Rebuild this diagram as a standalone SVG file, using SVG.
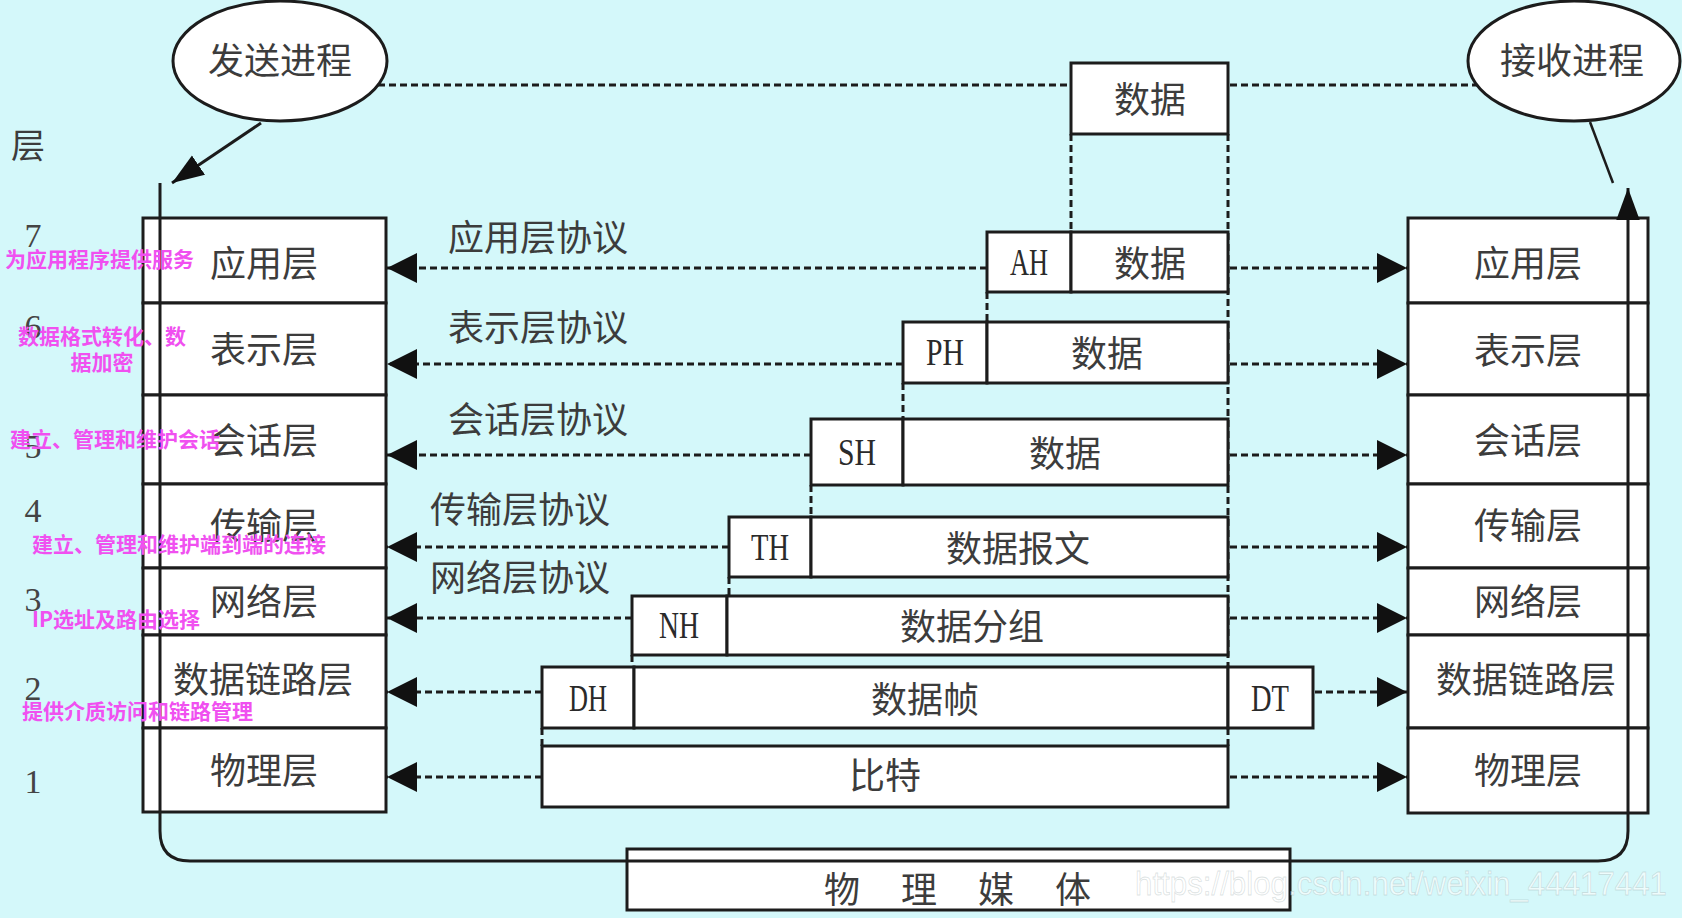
<svg xmlns="http://www.w3.org/2000/svg" width="1682" height="918" viewBox="0 0 1682 918">
<style>
.bg{fill:#d4f8fa}
.box{fill:#ffffff;stroke:#1c1c1c;stroke-width:3}
.cj{font-family:"Noto Sans CJK SC","Noto Sans",sans-serif;fill:#3c3c3c;text-anchor:middle;dominant-baseline:central}
.big{font-size:36px}
.lat{font-family:"Liberation Serif",serif;fill:#2a2a2a;text-anchor:middle;dominant-baseline:central;font-size:38px}
.num{font-family:"Liberation Serif",serif;fill:#444;font-size:34px;text-anchor:middle}
.pink{font-family:"Noto Sans CJK SC",sans-serif;font-size:21px;font-weight:bold;fill:#f050f0;dominant-baseline:central}
.dash{stroke:#1c1c1c;stroke-width:3;stroke-dasharray:7 4;fill:none}
.solid{stroke:#1c1c1c;stroke-width:3;fill:none}
.wm{font-family:"Liberation Sans",sans-serif;font-size:34px;fill:#ffffff;fill-opacity:0.6;stroke:#9aa;stroke-opacity:0.35;stroke-width:0.8}
</style>
<defs>
<marker id="ah" markerUnits="userSpaceOnUse" markerWidth="30" markerHeight="30" viewBox="0 0 26 26" refX="26" refY="13" orient="auto">
<path d="M0,0 L26,13 L0,26 Z" fill="#111"/>
</marker>
<marker id="ah2" markerUnits="userSpaceOnUse" markerWidth="32" markerHeight="24" viewBox="0 0 30 22" refX="30" refY="11" orient="auto">
<path d="M0,0 L30,11 L0,22 Z" fill="#111"/>
</marker>
</defs>
<rect class="bg" x="0" y="0" width="1682" height="918"/>

<g id="connectors">
<line class="dash" x1="378" y1="85" x2="1071" y2="85"/>
<line class="dash" x1="1230" y1="85" x2="1477" y2="85"/>
<line class="dash" x1="1071" y1="134" x2="1071" y2="232"/>
<line class="dash" x1="1228" y1="134" x2="1228" y2="746"/>
<line class="dash" x1="987" y1="292" x2="987" y2="322"/>
<line class="dash" x1="903" y1="383" x2="903" y2="419"/>
<line class="dash" x1="811" y1="485" x2="811" y2="517"/>
<line class="dash" x1="729" y1="577" x2="729" y2="596"/>
<line class="dash" x1="632" y1="655" x2="632" y2="667"/>
<line class="dash" x1="542" y1="728" x2="542" y2="746"/>
<line class="dash" x1="987" y1="268" x2="387" y2="268" marker-end="url(#ah)"/>
<line class="dash" x1="903" y1="364" x2="387" y2="364" marker-end="url(#ah)"/>
<line class="dash" x1="811" y1="455" x2="387" y2="455" marker-end="url(#ah)"/>
<line class="dash" x1="729" y1="547" x2="387" y2="547" marker-end="url(#ah)"/>
<line class="dash" x1="632" y1="618" x2="387" y2="618" marker-end="url(#ah)"/>
<line class="dash" x1="542" y1="692" x2="387" y2="692" marker-end="url(#ah)"/>
<line class="dash" x1="542" y1="777" x2="387" y2="777" marker-end="url(#ah)"/>
<line class="dash" x1="1230" y1="268" x2="1407" y2="268" marker-end="url(#ah)"/>
<line class="dash" x1="1230" y1="364" x2="1407" y2="364" marker-end="url(#ah)"/>
<line class="dash" x1="1230" y1="455" x2="1407" y2="455" marker-end="url(#ah)"/>
<line class="dash" x1="1230" y1="547" x2="1407" y2="547" marker-end="url(#ah)"/>
<line class="dash" x1="1230" y1="618" x2="1407" y2="618" marker-end="url(#ah)"/>
<line class="dash" x1="1315" y1="692" x2="1407" y2="692" marker-end="url(#ah)"/>
<line class="dash" x1="1230" y1="777" x2="1407" y2="777" marker-end="url(#ah)"/>
</g>

<g id="sender">
<ellipse cx="280" cy="61" rx="107" ry="60" fill="#fff" stroke="#1c1c1c" stroke-width="3"/>
<text class="cj big" x="280" y="58">发送进程</text>
</g>
<g id="receiver">
<ellipse cx="1574" cy="61" rx="106" ry="60" fill="#fff" stroke="#1c1c1c" stroke-width="3"/>
<text class="cj big" x="1572" y="58">接收进程</text>
</g>

<g id="protocol-labels">
<text class="cj big" x="538" y="235">应用层协议</text>
<text class="cj big" x="538" y="325">表示层协议</text>
<text class="cj big" x="538" y="417">会话层协议</text>
<text class="cj big" x="520" y="507">传输层协议</text>
<text class="cj big" x="520" y="575">网络层协议</text>
</g>

<g id="left-stack">
<g id="l-app"><rect class="box" x="143" y="218" width="243" height="85"/><text class="cj big" x="264" y="261">应用层</text></g>
<g id="l-pres"><rect class="box" x="143" y="303" width="243" height="92"/><text class="cj big" x="264" y="347">表示层</text></g>
<g id="l-sess"><rect class="box" x="143" y="395" width="243" height="89"/><text class="cj big" x="264" y="438">会话层</text></g>
<g id="l-trans"><rect class="box" x="143" y="484" width="243" height="84"/><text class="cj big" x="264" y="523">传输层</text></g>
<g id="l-net"><rect class="box" x="143" y="568" width="243" height="67"/><text class="cj big" x="264" y="599">网络层</text></g>
<g id="l-link"><rect class="box" x="143" y="635" width="243" height="93"/><text class="cj big" x="263" y="677">数据链路层</text></g>
<g id="l-phy"><rect class="box" x="143" y="728" width="243" height="84"/><text class="cj big" x="264" y="768">物理层</text></g>
</g>

<g id="right-stack">
<g id="r-app"><rect class="box" x="1408" y="218" width="240" height="85"/><text class="cj big" x="1528" y="261">应用层</text></g>
<g id="r-pres"><rect class="box" x="1408" y="303" width="240" height="92"/><text class="cj big" x="1528" y="348">表示层</text></g>
<g id="r-sess"><rect class="box" x="1408" y="395" width="240" height="89"/><text class="cj big" x="1528" y="438">会话层</text></g>
<g id="r-trans"><rect class="box" x="1408" y="484" width="240" height="84"/><text class="cj big" x="1528" y="523">传输层</text></g>
<g id="r-net"><rect class="box" x="1408" y="568" width="240" height="67"/><text class="cj big" x="1528" y="599">网络层</text></g>
<g id="r-link"><rect class="box" x="1408" y="635" width="240" height="93"/><text class="cj big" x="1526" y="677">数据链路层</text></g>
<g id="r-phy"><rect class="box" x="1408" y="728" width="240" height="85"/><text class="cj big" x="1528" y="768">物理层</text></g>
</g>

<g id="data-top"><rect class="box" x="1071" y="63" width="157" height="71"/><text class="cj big" x="1150" y="97">数据</text></g>
<g id="row-ah">
<rect class="box" x="987" y="232" width="84" height="60"/><text class="lat" x="1029" y="262" textLength="38" lengthAdjust="spacingAndGlyphs">AH</text>
<rect class="box" x="1071" y="232" width="157" height="60"/><text class="cj big" x="1150" y="261">数据</text>
</g>
<g id="row-ph">
<rect class="box" x="903" y="322" width="84" height="61"/><text class="lat" x="945" y="352" textLength="38" lengthAdjust="spacingAndGlyphs">PH</text>
<rect class="box" x="987" y="322" width="241" height="61"/><text class="cj big" x="1107" y="351">数据</text>
</g>
<g id="row-sh">
<rect class="box" x="811" y="419" width="92" height="66"/><text class="lat" x="857" y="452" textLength="38" lengthAdjust="spacingAndGlyphs">SH</text>
<rect class="box" x="903" y="419" width="325" height="66"/><text class="cj big" x="1065" y="451">数据</text>
</g>
<g id="row-th">
<rect class="box" x="729" y="517" width="82" height="60"/><text class="lat" x="770" y="547" textLength="38" lengthAdjust="spacingAndGlyphs">TH</text>
<rect class="box" x="811" y="517" width="417" height="60"/><text class="cj big" x="1018" y="546">数据报文</text>
</g>
<g id="row-nh">
<rect class="box" x="632" y="596" width="95" height="59"/><text class="lat" x="679" y="625" textLength="40" lengthAdjust="spacingAndGlyphs">NH</text>
<rect class="box" x="727" y="596" width="501" height="59"/><text class="cj big" x="972" y="624">数据分组</text>
</g>
<g id="row-frame">
<rect class="box" x="542" y="667" width="92" height="61"/><text class="lat" x="588" y="698" textLength="38" lengthAdjust="spacingAndGlyphs">DH</text>
<rect class="box" x="634" y="667" width="594" height="61"/><text class="cj big" x="925" y="697">数据帧</text>
<rect class="box" x="1228" y="667" width="85" height="61"/><text class="lat" x="1270" y="698" textLength="38" lengthAdjust="spacingAndGlyphs">DT</text>
</g>
<g id="row-bits"><rect class="box" x="542" y="746" width="686" height="61"/><text class="cj big" x="885" y="773">比特</text></g>
<g id="medium"><rect class="box" x="627" y="849" width="663" height="61"/><text class="cj big" x="842 919 996 1073" y="887">物理媒体</text></g>

<g id="flow">
<path class="solid" d="M160,183 V831 Q160,861 190,861 H1598 Q1628,861 1628,831 V188" marker-end="url(#ah2)"/>
<line class="solid" x1="261" y1="123" x2="172" y2="183" marker-end="url(#ah2)"/>
<line x1="1590" y1="122" x2="1613" y2="183" stroke="#1c1c1c" stroke-width="2.5"/>
</g>

<g id="layer-numbers">
<text class="cj" x="28" y="143" style="font-size:34px">层</text>
<text class="num" x="33" y="247">7</text>
<text class="num" x="33" y="338">6</text>
<text class="num" x="33" y="458">5</text>
<text class="num" x="33" y="522">4</text>
<text class="num" x="33" y="611">3</text>
<text class="num" x="33" y="700">2</text>
<text class="num" x="33" y="793">1</text>
</g>

<g id="annotations">
<text class="pink" x="5" y="258">为应用程序提供服务</text>
<text class="pink" x="102" y="335" text-anchor="middle">数据格式转化、数</text>
<text class="pink" x="102" y="361" text-anchor="middle">据加密</text>
<text class="pink" x="10" y="438">建立、管理和维护会话</text>
<text class="pink" x="32" y="543">建立、管理和维护端到端的连接</text>
<text class="pink" x="32" y="618">IP选址及路由选择</text>
<text class="pink" x="22" y="710">提供介质访问和链路管理</text>
</g>

<text class="wm" x="1135" y="895" textLength="532" lengthAdjust="spacingAndGlyphs">https://blog.csdn.net/weixin_44417441</text>
</svg>
